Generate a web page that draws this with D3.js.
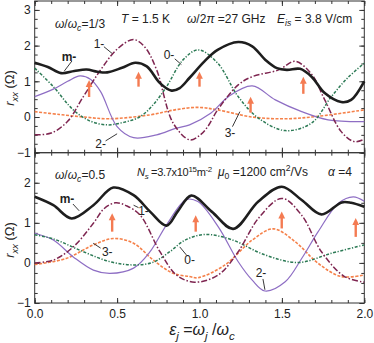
<!DOCTYPE html>
<html>
<head>
<meta charset="utf-8">
<script src="https://cdn.jsdelivr.net/npm/d3@7"></script>
<style>
  body { margin: 0; background: #fff; }
  svg { display: block; }
</style>
</head>
<body>
<div id="chart"></div>
<script>
// ---- data ----
var X_TICKS = [0, 0.5, 1.0, 1.5, 2.0];
var TOP_Y_TICKS = [-1, 0, 1, 2, 3];
var BOT_Y_TICKS = [-1, 0, 1, 2];

// upper panel, w/wc = 1/3
var TOP_M = [[0,1.52],[0.08,1.4],[0.16,1.23],[0.24,1.29],[0.315,1.33],[0.38,1.27],[0.44,1.25],[0.53,1.38],[0.61,1.52],[0.68,1.42],[0.76,0.95],[0.83,0.74],[0.88,0.81],[0.94,1.1],[1.03,1.56],[1.11,1.88],[1.235,2.1],[1.32,1.98],[1.4,1.6],[1.47,1.37],[1.53,1.32],[1.61,1.35],[1.68,1.13],[1.76,0.67],[1.86,0.42],[1.92,0.48],[2.0,1.0]];
var TOP_1 = [[0,-0.5],[0.1,-0.45],[0.2,-0.12],[0.295,0.57],[0.4,1.32],[0.5,1.9],[0.6,2.17],[0.67,1.95],[0.74,1.32],[0.84,-0.17],[0.94,-0.64],[1.0,-0.52],[1.05,-0.27],[1.11,0.2],[1.235,0.9],[1.32,1.13],[1.48,1.32],[1.58,1.56],[1.68,1.2],[1.76,0.48],[1.86,-0.41],[1.94,-0.69],[2.0,-0.62]];
var TOP_0 = [[0,1.37],[0.113,0.85],[0.234,0.2],[0.33,-0.1],[0.437,-0.22],[0.54,-0.15],[0.64,0.01],[0.72,0.35],[0.8,0.85],[0.9,1.6],[0.993,1.88],[1.11,1.51],[1.235,0.57],[1.357,-0.03],[1.52,-0.38],[1.68,-0.17],[1.8,0.57],[1.9,1.1],[2.0,1.51]];
var TOP_2 = [[0,0.57],[0.113,0.78],[0.2,1.0],[0.275,1.15],[0.34,1.05],[0.4,0.71],[0.5,-0.27],[0.6,-0.58],[0.74,-0.5],[0.86,-0.31],[0.94,-0.22],[1.07,0.11],[1.175,0.57],[1.32,0.87],[1.46,0.48],[1.62,0.15],[1.78,-0.08],[2.0,-0.13]];
var TOP_3 = [[0,0.15],[0.15,0.07],[0.3,0.0],[0.45,-0.05],[0.7,0.06],[0.85,0.2],[0.99,0.27],[1.11,0.2],[1.32,0.0],[1.52,-0.05],[1.72,0.02],[2.0,0.2]];
var TOP_ARROWS = [[0.33,0.56,1.04],[0.63,0.85,1.27],[1.0,0.85,1.27],[1.31,0.12,0.57],[1.63,0.65,1.13]];

// lower panel, w/wc = 0.5
var BOT_M = [[0,1.65],[0.113,1.44],[0.224,1.11],[0.356,1.44],[0.477,1.88],[0.6,1.69],[0.7,1.28],[0.8,0.93],[0.87,1.3],[0.95,1.68],[1.074,1.28],[1.205,0.85],[1.357,1.53],[1.499,1.9],[1.62,1.57],[1.74,1.21],[1.863,1.51],[1.92,1.5],[2.0,1.4]];
var BOT_1 = [[0,0.0],[0.113,0.07],[0.234,0.4],[0.356,0.99],[0.42,1.35],[0.49,1.5],[0.56,1.42],[0.64,1.19],[0.76,0.28],[0.86,-0.3],[0.97,-0.48],[1.114,-0.3],[1.235,0.28],[1.357,1.11],[1.499,1.61],[1.62,1.19],[1.74,0.28],[1.88,-0.34],[2.0,-0.48]];
var BOT_0 = [[0,0.7],[0.113,0.6],[0.295,0.28],[0.457,0.03],[0.6,-0.05],[0.72,0.02],[0.82,0.28],[0.913,0.57],[1.033,0.71],[1.195,0.58],[1.397,0.2],[1.6,0.01],[1.8,0.24],[2.0,0.45]];
var BOT_2 = [[0,0.74],[0.113,0.57],[0.234,0.15],[0.356,-0.18],[0.457,-0.26],[0.6,-0.13],[0.7,0.28],[0.8,0.95],[0.92,1.58],[0.99,1.53],[1.114,0.9],[1.235,0.03],[1.32,-0.43],[1.397,-0.7],[1.52,-0.47],[1.62,0.11],[1.72,0.78],[1.843,1.49],[1.933,1.65],[2.0,1.54]];
var BOT_3 = [[0,-0.04],[0.19,0.11],[0.356,0.45],[0.477,0.61],[0.6,0.49],[0.72,0.07],[0.84,-0.26],[0.94,-0.34],[0.99,-0.37],[1.155,-0.05],[1.32,0.57],[1.448,0.85],[1.58,0.53],[1.72,-0.01],[1.86,-0.34],[2.0,-0.3]];
var BOT_ARROWS = [[0.47,0.78,1.24],[0.977,0.78,1.19],[1.499,0.86,1.28],[1.948,0.65,1.12]];

// ---- styles ----
var W = 374, H = 343;
var LEFT = 34.7, RIGHT = 364.3;
var FONT = '"Liberation Sans", Arial, sans-serif';
var TXT = '#222';
var C_M = '#1e1e1e', C_1 = '#7e2550', C_0 = '#2c7a55', C_2 = '#8e6ec4', C_3 = '#f5814a', C_ARROW = '#f47b52';

var SERIES_STYLE = {
  m: { color: C_M, width: 2.6, dash: null },
  s1: { color: C_1, width: 1.5, dash: '6,2,1.5,2' },
  s0: { color: C_0, width: 1.5, dash: '3,1.6,1.2,1.6' },
  s2: { color: C_2, width: 1.2, dash: null },
  s3: { color: C_3, width: 1.6, dash: '3,1.5' }
};

var svg = d3.select('#chart').append('svg')
  .attr('width', W).attr('height', H)
  .attr('font-family', FONT);

var x = d3.scaleLinear().domain([0, 2]).range([LEFT, RIGHT]);
var yTop = d3.scaleLinear().domain([-1, 3.25]).range([152.7, 1]);
var yBot = d3.scaleLinear().domain([-1, 2.75]).range([303, 152.7]);

// text made of parts: [string, flags]; flags 'i' italic, 'sub', 'sup', 'isub'
function rich(sel, parts, size) {
  parts.forEach(function (p) {
    var st = p[1] || '';
    var ts = sel.append('tspan').attr('font-size', size).text(p[0]);
    if (st.indexOf('sub') >= 0) ts.attr('font-size', size * 0.72).attr('baseline-shift', (-size * 0.28).toFixed(1));
    if (st.indexOf('sup') >= 0) ts.attr('font-size', size * 0.72).attr('baseline-shift', (size * 0.4).toFixed(1));
    if (st.charAt(0) === 'i') ts.attr('font-style', 'italic');
  });
  return sel;
}

function drawAxes(y, yTicks) {
  var r = y.range();
  var bottom = r[0], top = r[1];
  var g = svg.append('g').attr('font-size', 12).attr('fill', TXT);
  var minorX = d3.range(0, 2.001, 0.1);
  var dom = y.domain();
  var minorY = d3.range(Math.ceil(dom[0] * 4) / 4, dom[1] + 0.001, 0.25);

  function style(a) {
    a.select('.domain').remove();
    a.selectAll('line').attr('stroke', '#333').attr('stroke-width', 1);
    a.selectAll('text').attr('fill', TXT).attr('font-family', FONT).attr('font-size', 12);
  }

  g.append('g').attr('transform', 'translate(0,' + bottom + ')')
    .call(d3.axisBottom(x).tickValues(minorX).tickSize(-3).tickFormat('')).call(style);
  g.append('g').attr('transform', 'translate(0,' + bottom + ')')
    .call(d3.axisBottom(x).tickValues(X_TICKS).tickSize(-5).tickFormat('')).call(style);
  g.append('g').attr('transform', 'translate(0,' + top + ')')
    .call(d3.axisTop(x).tickValues(minorX).tickSize(-3).tickFormat('')).call(style);
  g.append('g').attr('transform', 'translate(0,' + top + ')')
    .call(d3.axisTop(x).tickValues(X_TICKS).tickSize(-5).tickFormat('')).call(style);
  g.append('g').attr('transform', 'translate(' + LEFT + ',0)')
    .call(d3.axisLeft(y).tickValues(minorY).tickSize(-3).tickFormat('')).call(style);
  g.append('g').attr('transform', 'translate(' + LEFT + ',0)')
    .call(d3.axisLeft(y).tickValues(yTicks).tickSize(-5).tickPadding(4).tickFormat(d3.format('d'))).call(style);
  g.append('g').attr('transform', 'translate(' + RIGHT + ',0)')
    .call(d3.axisRight(y).tickValues(minorY).tickSize(-3).tickFormat('')).call(style);
  g.append('g').attr('transform', 'translate(' + RIGHT + ',0)')
    .call(d3.axisRight(y).tickValues(yTicks).tickSize(-5).tickFormat('')).call(style);

  svg.append('rect')
    .attr('x', LEFT).attr('y', top)
    .attr('width', RIGHT - LEFT).attr('height', bottom - top)
    .attr('fill', 'none').attr('stroke', '#333').attr('stroke-width', 1);
  return g;
}

function drawSeries(y, data, key) {
  var s = SERIES_STYLE[key];
  var line = d3.line()
    .x(function (d) { return x(d[0]); })
    .y(function (d) { return y(d[1]); })
    .curve(d3.curveCatmullRom.alpha(0.5));
  svg.append('path')
    .datum(data)
    .attr('d', line)
    .attr('fill', 'none')
    .attr('stroke', s.color)
    .attr('stroke-width', s.width)
    .attr('stroke-dasharray', s.dash)
    .attr('stroke-linejoin', 'round');
}

function drawArrows(y, arrows) {
  arrows.forEach(function (a) {
    var cx = x(a[0]), y0 = y(a[1]), y1 = y(a[2]);
    svg.append('line')
      .attr('x1', cx).attr('x2', cx)
      .attr('y1', y0).attr('y2', y1 + 6)
      .attr('stroke', C_ARROW).attr('stroke-width', 2.4);
    svg.append('path')
      .attr('d', 'M' + (cx - 3.4) + ',' + (y1 + 7) + 'L' + cx + ',' + y1 + 'L' + (cx + 3.4) + ',' + (y1 + 7) + 'Z')
      .attr('fill', C_ARROW);
  });
}

function curveLabel(y, text, pos, from, to, bold) {
  svg.append('text')
    .attr('x', x(pos[0])).attr('y', y(pos[1]))
    .attr('text-anchor', 'middle').attr('dominant-baseline', 'central')
    .attr('font-size', 12).attr('font-weight', bold ? 'bold' : 'normal')
    .attr('fill', TXT).text(text);
  svg.append('line')
    .attr('x1', x(from[0])).attr('y1', y(from[1]))
    .attr('x2', x(to[0])).attr('y2', y(to[1]))
    .attr('stroke', '#222').attr('stroke-width', 0.9);
}

function yTitle(cy) {
  var t = svg.append('text')
    .attr('transform', 'translate(14,' + cy + ') rotate(-90)')
    .attr('text-anchor', 'middle')
    .attr('fill', TXT);
  rich(t, [['r', 'i'], ['xx', 'isub'], [' (\u03a9)', '']], 13);
}

function note(px, py, parts, size, spacing) {
  var t = svg.append('text').attr('x', px).attr('y', py).attr('fill', TXT);
  if (spacing) t.attr('letter-spacing', spacing);
  rich(t, parts, size || 12);
}

// ---- upper panel ----
drawAxes(yTop, TOP_Y_TICKS);
drawSeries(yTop, TOP_3, 's3');
drawSeries(yTop, TOP_2, 's2');
drawSeries(yTop, TOP_0, 's0');
drawSeries(yTop, TOP_1, 's1');
drawSeries(yTop, TOP_M, 'm');
drawArrows(yTop, TOP_ARROWS);
yTitle(88);

note(55, 28, [['\u03c9', 'i'], ['/', ''], ['\u03c9', 'i'], ['c', 'isub'], ['=1/3', '']]);
note(121, 23, [['T', 'i'], [' = 1.5 K', '']]);
note(187, 23, [['\u03c9', 'i'], ['/2', ''], ['\u03c0', 'i'], [' =27 GHz', '']]);
note(277, 23, [['E', 'i'], ['is', 'isub'], [' = 3.8 V/cm', '']]);

curveLabel(yTop, 'm-', [0.208, 1.69], [0.226, 1.57], [0.18, 1.29], true);
curveLabel(yTop, '1-', [0.39, 2.05], [0.42, 1.97], [0.47, 1.78]);
curveLabel(yTop, '0-', [0.815, 1.74], [0.85, 1.63], [0.89, 1.47]);
curveLabel(yTop, '2-', [0.40, -0.76], [0.43, -0.67], [0.50, -0.47]);
curveLabel(yTop, '3-', [1.185, -0.45], [1.2, -0.27], [1.245, 0.15]);

// ---- lower panel ----
var gb = drawAxes(yBot, BOT_Y_TICKS);
gb.append('g').attr('transform', 'translate(0,303)')
  .call(d3.axisBottom(x).tickValues(X_TICKS).tickSize(0).tickPadding(6).tickFormat(d3.format('.1f')))
  .call(function (a) {
    a.select('.domain').remove();
    a.selectAll('line').remove();
    a.selectAll('text').attr('fill', TXT).attr('font-family', FONT).attr('font-size', 12);
  });

drawSeries(yBot, BOT_3, 's3');
drawSeries(yBot, BOT_2, 's2');
drawSeries(yBot, BOT_0, 's0');
drawSeries(yBot, BOT_1, 's1');
drawSeries(yBot, BOT_M, 'm');
drawArrows(yBot, BOT_ARROWS);
yTitle(240);

note(55, 179, [['\u03c9', 'i'], ['/', ''], ['\u03c9', 'i'], ['c', 'isub'], ['=0.5', '']]);
note(137, 176, [['N', 'i'], ['s', 'isub'], [' =3.7x10', ''], ['15', 'sup'], ['m', ''], ['-2', 'sup']], 11, -0.3);
note(218, 176, [['\u03bc', 'i'], ['0', 'sub'], [' =1200 cm', ''], ['2', 'sup'], ['/Vs', '']]);
note(328, 176, [['\u03b1', 'i'], [' =4', '']]);

curveLabel(yBot, 'm-', [0.196, 1.59], [0.232, 1.47], [0.27, 1.3], true);
curveLabel(yBot, '1-', [0.66, 1.3], [0.63, 1.38], [0.6, 1.44]);
curveLabel(yBot, '3-', [0.44, 0.27], [0.40, 0.37], [0.355, 0.49]);
curveLabel(yBot, '0-', [0.94, 0.07], [0.92, 0.2], [0.88, 0.4]);
curveLabel(yBot, '2-', [1.373, -0.25], [1.385, -0.4], [1.397, -0.67]);

// x title
var xt = svg.append('text')
  .attr('x', 202).attr('y', 335)
  .attr('text-anchor', 'middle').attr('fill', TXT);
rich(xt, [['\u03b5', 'i'], ['j', 'isub'], [' =', ''], ['\u03c9', 'i'], ['j', 'isub'], [' /', ''], ['\u03c9', 'i'], ['c', 'isub']], 16);
</script>
</body>
</html>
